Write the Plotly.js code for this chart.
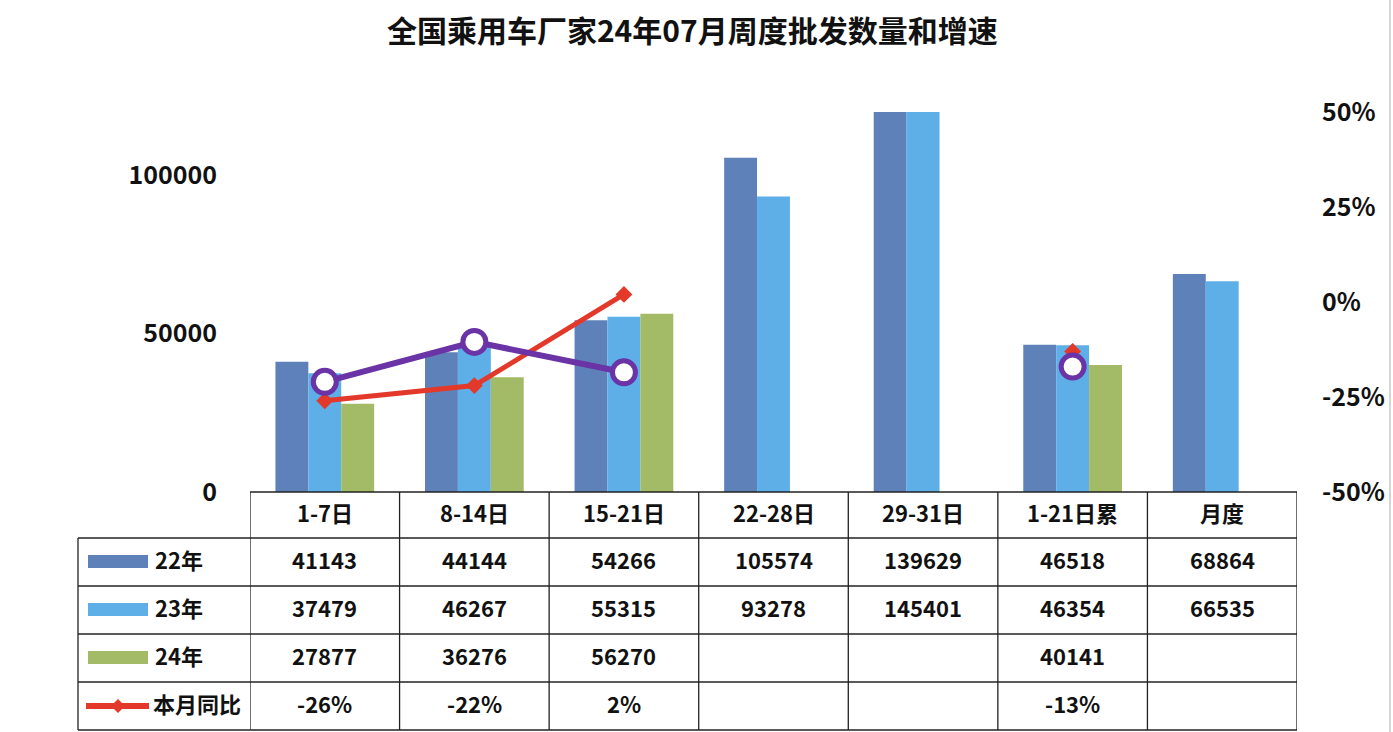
<!DOCTYPE html>
<html>
<head>
<meta charset="utf-8">
<script src="https://cdn.plot.ly/plotly-3.0.1.min.js"></script>
<style>html,body{margin:0;padding:0;background:#fff;}#chart{width:1393px;height:732px;}</style>
</head>
<body>
<div id="chart"></div>
<script>
// ---- data ----
const categories = ['1-7日', '8-14日', '15-21日', '22-28日', '29-31日', '1-21日累', '月度'];
const seriesNames = ['22年', '23年', '24年', '本月同比'];
const v22 = [41143, 44144, 54266, 105574, 139629, 46518, 68864];
const v23 = [37479, 46267, 55315, 93278, 145401, 46354, 66535];
const v24 = [27877, 36276, 56270, null, null, 40141, null];
const yoy = [-0.26, -0.22, 0.02, null, null, -0.13, null];
const purpleRate = [-0.21, -0.105, -0.185, null, null, -0.17, null];
const leftTicks = [0, 50000, 100000];
const rightTicks = [-0.5, -0.25, 0, 0.25, 0.5];

// ---- styling / geometry ----
const W = 1393, Hc = 732;
const L = 250, R = 1297, T = 112, B = 492;
const PW = R - L, PH = B - T;
const FONT = '"Noto Sans CJK SC", "Noto Sans", sans-serif';
const colors = ['#5f81b9', '#5eaee8', '#a3ba66', '#e2392b'];
const purple = '#6a33a6';

function px(x) { return (x - L) / PW; }
function py(y) { return (B - y) / PH; }

const traces = [];
[v22, v23, v24].forEach((vals, i) => {
  traces.push({
    type: 'bar', x: categories, y: vals, name: seriesNames[i],
    marker: {color: colors[i], line: {width: 0}}, hoverinfo: 'x+y'
  });
});
traces.push({
  type: 'scatter', mode: 'lines+markers', x: categories, y: yoy, yaxis: 'y2',
  name: seriesNames[3], connectgaps: false,
  line: {color: colors[3], width: 5},
  marker: {symbol: 'diamond', size: 13, color: colors[3]}
});
traces.push({
  type: 'scatter', mode: 'lines+markers', x: categories, y: purpleRate, yaxis: 'y2',
  name: '同比', connectgaps: false,
  line: {color: purple, width: 6},
  marker: {symbol: 'circle', size: 23, color: '#ffffff', line: {color: purple, width: 5}}
});

// ---- table below plot ----
const rowEdges = [492, 538, 586, 634, 682, 730];
const shapes = [];
const annotations = [];
const lineStyle = {color: '#222222', width: 1.3};
const leftEdge = px(78);
const TEXT_SHIFT = 3;

rowEdges.forEach((ry, i) => {
  shapes.push({type: 'line', xref: 'paper', yref: 'paper',
    x0: i === 0 ? 0 : leftEdge, x1: 1, y0: py(ry), y1: py(ry), line: lineStyle});
});
for (let i = 0; i <= categories.length; i++) {
  shapes.push({type: 'line', xref: 'x', yref: 'paper',
    x0: i - 0.5, x1: i - 0.5, y0: py(rowEdges[0]), y1: py(rowEdges[5]), line: lineStyle});
}
shapes.push({type: 'line', xref: 'paper', yref: 'paper',
  x0: leftEdge, x1: leftEdge, y0: py(rowEdges[1]), y1: py(rowEdges[5]), line: lineStyle});

const tFont = {family: FONT, size: 22, color: '#111', weight: 'bold'};
categories.forEach((c, i) => {
  annotations.push({xref: 'x', yref: 'paper', x: i, y: py((rowEdges[0] + rowEdges[1]) / 2),
    yshift: TEXT_SHIFT, text: c, showarrow: false, font: tFont, xanchor: 'center', yanchor: 'middle'});
});
const fmtNum = v => (v === null ? '' : String(v));
const fmtPct = v => (v === null ? '' : Math.round(v * 100) + '%');
const rows = [v22.map(fmtNum), v23.map(fmtNum), v24.map(fmtNum), yoy.map(fmtPct)];
rows.forEach((vals, r) => {
  const cy = py((rowEdges[r + 1] + rowEdges[r + 2]) / 2);
  vals.forEach((t, i) => {
    if (t) annotations.push({xref: 'x', yref: 'paper', x: i, y: cy, yshift: TEXT_SHIFT, text: t,
      showarrow: false, font: tFont, xanchor: 'center', yanchor: 'middle'});
  });
  annotations.push({xref: 'paper', yref: 'paper', x: px(r === 3 ? 151 : 153), y: cy, yshift: TEXT_SHIFT,
    text: seriesNames[r], showarrow: false, font: tFont, xanchor: 'left', yanchor: 'middle'});
  const cyPx = (rowEdges[r + 1] + rowEdges[r + 2]) / 2;
  if (r < 3) {
    shapes.push({type: 'rect', xref: 'paper', yref: 'paper', x0: px(88), x1: px(148),
      y0: py(cyPx - 7), y1: py(cyPx + 6), fillcolor: colors[r], line: {width: 0}});
  } else {
    shapes.push({type: 'line', xref: 'paper', yref: 'paper', x0: px(86), x1: px(149),
      y0: py(cyPx), y1: py(cyPx), line: {color: colors[3], width: 6}});
    const dx = 7 / PW, dy = 7 / PH, cx = px(118), cyy = py(cyPx);
    shapes.push({type: 'path', xref: 'paper', yref: 'paper',
      path: `M ${cx - dx} ${cyy} L ${cx} ${cyy + dy} L ${cx + dx} ${cyy} L ${cx} ${cyy - dy} Z`,
      fillcolor: colors[3], line: {width: 0}});
  }
});
shapes.push({type: 'line', xref: 'paper', yref: 'paper', x0: px(1390), x1: px(1390),
  y0: py(Hc), y1: py(0), line: {color: '#d6d6d6', width: 2}});

const axFont = {family: FONT, size: 25, color: '#111', weight: 'bold'};
const layout = {
  width: W, height: Hc,
  margin: {l: L, r: W - R, t: T, b: Hc - B},
  paper_bgcolor: '#ffffff', plot_bgcolor: '#ffffff',
  font: {family: FONT},
  title: {text: '全国乘用车厂家24年07月周度批发数量和增速', xref: 'container', yref: 'container',
    x: 0.497, y: 1 - 31 / Hc, xanchor: 'center', yanchor: 'middle',
    font: {family: FONT, size: 30, color: '#111', weight: 'bold'}},
  barmode: 'group', bargap: 0.34, bargroupgap: 0,
  showlegend: false,
  xaxis: {type: 'category', showticklabels: false, showgrid: false, zeroline: false,
    showline: false, ticks: '', range: [-0.5, categories.length - 0.5]},
  yaxis: {range: [0, 120000], tickvals: leftTicks, ticktext: leftTicks.map(String),
    showgrid: false, zeroline: false, showline: false, ticks: '', ticklabelstandoff: 32,
    tickfont: axFont},
  yaxis2: {overlaying: 'y', side: 'right', range: [-0.5, 0.5], tickvals: rightTicks,
    ticktext: rightTicks.map(v => Math.round(v * 100) + '%'),
    showgrid: false, zeroline: false, showline: false, ticks: '', ticklabelstandoff: 24,
    tickfont: axFont},
  shapes: shapes,
  annotations: annotations
};
Plotly.newPlot('chart', traces, layout, {displayModeBar: false, staticPlot: true});
</script>
</body>
</html>
